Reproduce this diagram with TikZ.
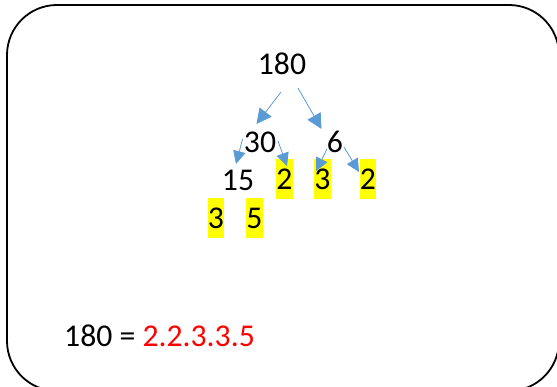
\documentclass[tikz,border=0pt]{standalone}
\usepackage{fontspec}
\setmainfont{Carlito}
\usetikzlibrary{arrows.meta}
\definecolor{arrowblue}{HTML}{5B9BD5}
\definecolor{hl}{HTML}{FFFF00}
\tikzset{
  num/.style={inner sep=0pt, font=\fontsize{31.7}{38}\selectfont},
  hlnum/.style={num, fill=hl, minimum width=16.7pt, minimum height=40pt},
  conn/.style={draw=arrowblue, line width=0.8pt, -{Triangle[length=15pt,width=15pt]}, arrowblue},
  conns/.style={draw=arrowblue, line width=0.8pt, -{Triangle[length=13pt,width=12.5pt]}, arrowblue},
  frame/.style={draw=black, line width=1.8pt, rounded corners=50pt}
}
\begin{document}
\begin{tikzpicture}[x=1pt,y=-1pt]
\useasboundingbox (0,0) rectangle (557,387);
\draw[frame] (7,5) rectangle (559,391);
\node[num] (n180) at (282,64) {180};
\node[num] (n30) at (260,142) {30};
\node[num] (n6) at (335,142) {6};
\node[num] (n15) at (238,180) {15};
\node[hlnum] (h2a) at (284.5,179) {2};
\node[hlnum] (h3a) at (322.5,179) {3};
\node[hlnum] (h2b) at (368,179) {2};
\node[hlnum] (h3b) at (216,218) {3};
\node[hlnum] (h5b) at (254.5,218) {5};
\node[num, anchor=west] (res) at (64,336) {180 = \textcolor{red}{2.2.3.3.5}};
% connector end points
\coordinate (a1s) at (281,92);   \coordinate (a1e) at (256.5,124);
\coordinate (a2s) at (298,88);   \coordinate (a2e) at (321.5,129);
\coordinate (a3s) at (242.6,139);\coordinate (a3e) at (236,164);
\coordinate (a4s) at (278,141);  \coordinate (a4e) at (287,166);
\coordinate (a5s) at (327,149);  \coordinate (a5e) at (316,171);
\coordinate (a6s) at (344,147);  \coordinate (a6e) at (359,172);
\draw[conn] (a1s) -- (a1e);
\draw[conn] (a2s) -- (a2e);
\draw[conns] (a3s) -- (a3e);
\draw[conns] (a4s) -- (a4e);
\draw[conns] (a5s) -- (a5e);
\draw[conns] (a6s) -- (a6e);
\end{tikzpicture}
\end{document}
